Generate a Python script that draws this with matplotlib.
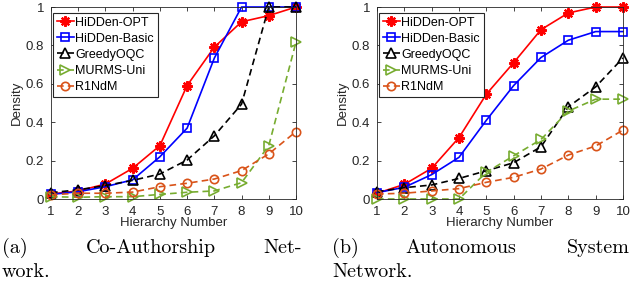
import numpy as np
import matplotlib.pyplot as plt

plt.rcParams['font.family'] = ['Liberation Sans', 'DejaVu Sans']

hier = np.arange(1, 11)
methods = ['HiDDen-OPT', 'HiDDen-Basic', 'GreedyOQC', 'MURMS-Uni', 'R1NdM']

# (a) Co-Authorship Network
coauth = {
    'HiDDen-OPT':   [0.026, 0.042, 0.078, 0.16, 0.278, 0.591, 0.791, 0.923, 0.955, 1.0],
    'HiDDen-Basic': [0.024, 0.038, 0.064, 0.10, 0.22, 0.369, 0.734, 1.0, 1.0, 1.0],
    'GreedyOQC':    [0.033, 0.048, 0.07, 0.097, 0.13, 0.203, 0.329, 0.494, 1.0, 1.0],
    'MURMS-Uni':    [0.012, 0.009, 0.012, 0.012, 0.024, 0.035, 0.042, 0.085, 0.278, 0.817],
    'R1NdM':        [0.022, 0.03, 0.03, 0.036, 0.064, 0.082, 0.104, 0.148, 0.235, 0.351],
}

# (b) Autonomous System Network
autosys = {
    'HiDDen-OPT':   [0.03, 0.076, 0.16, 0.32, 0.546, 0.71, 0.882, 0.969, 1.0, 1.0],
    'HiDDen-Basic': [0.033, 0.061, 0.127, 0.217, 0.41, 0.591, 0.737, 0.827, 0.872, 0.872],
    'GreedyOQC':    [0.038, 0.059, 0.073, 0.107, 0.147, 0.189, 0.272, 0.48, 0.584, 0.735],
    'MURMS-Uni':    [0.0, 0.0, 0.0, 0.0, 0.139, 0.225, 0.31, 0.458, 0.52, 0.52],
    'R1NdM':        [0.026, 0.03, 0.042, 0.054, 0.087, 0.113, 0.156, 0.229, 0.276, 0.359],
}

# caption words: (text, left px, right px, baseline px)
captions = [
    ('(a)', 2, 38, 253), ('Co-Authorship', 72, 230, 253), ('Net-', 254, 302, 253),
    ('work.', 2, 65, 277),
    ('(b)', 332, 362, 253), ('Autonomous', 397, 525, 253), ('System', 562, 630, 253),
    ('Network.', 332, 433, 277),
]

styles = {
    'HiDDen-OPT':   dict(color='#ff0000', ls='-', marker=(8, 2, 0), mew=1.6, ms=7.5),
    'HiDDen-Basic': dict(color='#0000ff', ls='-', marker='s', mfc='none', mew=1.2, ms=6),
    'GreedyOQC':    dict(color='#000000', ls=(0, (4, 2.5)), marker='^', mfc='none', mew=1.2, ms=6.5),
    'MURMS-Uni':    dict(color='#77ac30', ls=(0, (4, 2.5)), marker='>', mfc='none', mew=1.2, ms=6.5),
    'R1NdM':        dict(color='#d95319', ls=(0, (4, 2.5)), marker='o', mfc='none', mew=1.2, ms=6),
}

W, H = 631, 288
fig = plt.figure(figsize=(W / 100, H / 100), dpi=100)
ax1 = fig.add_axes([51 / W, 89 / H, 245 / W, 192 / H])
ax2 = fig.add_axes([377 / W, 89 / H, 246 / W, 192 / H])

axcol = '#262626'
for ax, data in [(ax1, coauth), (ax2, autosys)]:
    for m in methods:
        ax.plot(hier, data[m], lw=1.2, label=m, clip_on=False, **styles[m])
    ax.set_xlim(1, 10)
    ax.set_ylim(0, 1)
    ax.set_xticks(hier)
    ax.set_yticks([0, 0.2, 0.4, 0.6, 0.8, 1])
    ax.set_yticklabels(['0', '0.2', '0.4', '0.6', '0.8', '1'])
    ax.tick_params(direction='in', length=3, width=0.6, labelsize=9.5,
                   colors=axcol, top=True, right=True, pad=5)
    for s in ax.spines.values():
        s.set_color(axcol)
        s.set_linewidth(0.6)
    ax.set_xlabel('Hierarchy Number', fontsize=9.5, color=axcol, labelpad=-1)
    ax.set_ylabel('Density', fontsize=9.5, color=axcol, labelpad=2)
    leg = ax.legend(loc='upper left', bbox_to_anchor=(0.008, 0.97), borderaxespad=0,
                    fontsize=9, handlelength=1.35, handletextpad=0.15,
                    labelspacing=0.33, borderpad=0.3, fancybox=False,
                    framealpha=1, edgecolor='#262626')
    leg.get_frame().set_linewidth(0.8)

# justified serif caption, one text per word centred in its slot
cap = dict(fontfamily='cmr10', fontsize=14.5, color='black')
for word, x0, x1, base in captions:
    if x0 < 10 or x0 in (332,):
        fig.text(x0 / W, 1 - base / H, word, ha='left', va='baseline', **cap)
    elif x1 > 295 and x1 < 310 or x1 > 620:
        fig.text(x1 / W, 1 - base / H, word, ha='right', va='baseline', **cap)
    else:
        fig.text((x0 + x1) / 2 / W, 1 - base / H, word, ha='center', va='baseline', **cap)

fig.savefig('out.png', dpi=100)
